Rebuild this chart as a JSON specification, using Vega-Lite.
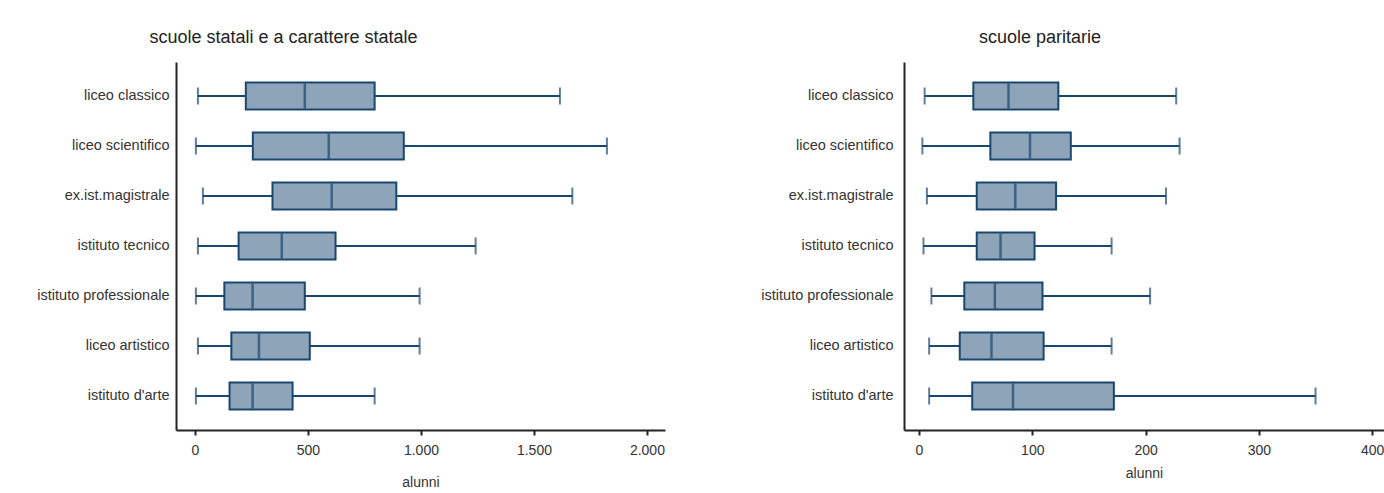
{
  "$schema": "https://vega.github.io/schema/vega-lite/v6.json",
  "padding": {"left": 0, "top": 29, "right": 0, "bottom": 0},
  "background": "white",
  "config": {
    "view": {"stroke": null},
    "font": "Liberation Sans",
    "concat": {"spacing": 89},
    "axis": {"domainColor": "#222222", "domainWidth": 2, "tickColor": "#222222", "tickWidth": 2, "labelColor": "#333333", "titleColor": "#333333", "labelFont": "Liberation Sans", "titleFont": "Liberation Sans", "grid": false},
    "title": {"font": "Liberation Sans", "fontSize": 18, "fontWeight": "normal", "color": "#222222"}
  },
  "datasets": {
    "statali": [
      {"cat": "liceo classico", "lo": 13, "q1": 225, "med": 486, "q3": 795, "hi": 1615},
      {"cat": "liceo scientifico", "lo": 4, "q1": 256, "med": 592, "q3": 924, "hi": 1823},
      {"cat": "ex.ist.magistrale", "lo": 35, "q1": 343, "med": 605, "q3": 891, "hi": 1670},
      {"cat": "istituto tecnico", "lo": 13, "q1": 193, "med": 384, "q3": 622, "hi": 1242},
      {"cat": "istituto professionale", "lo": 4, "q1": 130, "med": 255, "q3": 486, "hi": 994},
      {"cat": "liceo artistico", "lo": 13, "q1": 161, "med": 283, "q3": 508, "hi": 994},
      {"cat": "istituto d'arte", "lo": 4, "q1": 153, "med": 255, "q3": 432, "hi": 795}
    ],
    "paritarie": [
      {"cat": "liceo classico", "lo": 5, "q1": 48, "med": 79, "q3": 123, "hi": 227},
      {"cat": "liceo scientifico", "lo": 3, "q1": 63, "med": 98, "q3": 134, "hi": 230},
      {"cat": "ex.ist.magistrale", "lo": 7, "q1": 51, "med": 85, "q3": 121, "hi": 218},
      {"cat": "istituto tecnico", "lo": 4, "q1": 51, "med": 72, "q3": 102, "hi": 170},
      {"cat": "istituto professionale", "lo": 11, "q1": 40, "med": 67, "q3": 109, "hi": 204},
      {"cat": "liceo artistico", "lo": 9, "q1": 36, "med": 64, "q3": 110, "hi": 170},
      {"cat": "istituto d'arte", "lo": 9, "q1": 47, "med": 83, "q3": 172, "hi": 350}
    ]
  },
  "hconcat": [
    {
      "title": {"text": "scuole statali e a carattere statale", "anchor": "middle", "frame": "group", "dx": -137, "offset": 15},
      "width": 489,
      "height": 368,
      "data": {"name": "statali"},
      "encoding": {
        "y": {"field": "cat", "type": "nominal", "sort": null, "title": null,
          "scale": {"type": "band", "paddingInner": 0, "paddingOuter": 0.18},
          "axis": {"ticks": false, "labelPadding": 7, "labelFontSize": 14.5, "minExtent": 176, "maxExtent": 176, "labelLimit": 300}}
      },
      "layer": [
        {"mark": {"type": "rule", "color": "#1a476f", "strokeWidth": 2},
          "encoding": {"x": {"field": "lo", "type": "quantitative", "title": "alunni",
            "scale": {"domain": [-84, 2080], "nice": false, "zero": false},
            "axis": {"values": [0, 500, 1000, 1500, 2000], "labelExpr": "replace(format(datum.value, ',d'), ',', '.')", "tickSize": 5, "labelPadding": 8, "labelFontSize": 14, "titleFontSize": 14, "titlePadding": 18, "titleFontWeight": "normal"}},
            "x2": {"field": "hi"}}},
        {"mark": {"type": "tick", "color": "#1a476f", "thickness": 2, "size": 17}, "encoding": {"x": {"field": "lo", "type": "quantitative"}}},
        {"mark": {"type": "tick", "color": "#1a476f", "thickness": 2, "size": 17}, "encoding": {"x": {"field": "hi", "type": "quantitative"}}},
        {"mark": {"type": "bar", "fill": "#8ea5b9", "stroke": "#1a476f", "strokeWidth": 2, "size": 27},
          "encoding": {"x": {"field": "q1", "type": "quantitative"}, "x2": {"field": "q3"}}},
        {"mark": {"type": "tick", "color": "#1a476f", "thickness": 2.5, "size": 25}, "encoding": {"x": {"field": "med", "type": "quantitative"}}}
      ]
    },
    {
      "title": {"text": "scuole paritarie", "anchor": "middle", "frame": "group", "dx": -104, "offset": 15},
      "width": 480,
      "height": 368,
      "data": {"name": "paritarie"},
      "encoding": {
        "y": {"field": "cat", "type": "nominal", "sort": null, "title": null,
          "scale": {"type": "band", "paddingInner": 0, "paddingOuter": 0.18},
          "axis": {"ticks": false, "labelPadding": 11, "labelFontSize": 14.5, "minExtent": 150, "maxExtent": 150, "labelLimit": 300}}
      },
      "layer": [
        {"mark": {"type": "rule", "color": "#1a476f", "strokeWidth": 2},
          "encoding": {"x": {"field": "lo", "type": "quantitative", "title": "alunni",
            "scale": {"domain": [-13.2, 410.4], "nice": false, "zero": false},
            "axis": {"values": [0, 100, 200, 300, 400], "tickSize": 5, "labelPadding": 8, "labelFontSize": 14, "titleFontSize": 14, "titlePadding": 9, "titleFontWeight": "normal"}},
            "x2": {"field": "hi"}}},
        {"mark": {"type": "tick", "color": "#1a476f", "thickness": 2, "size": 17}, "encoding": {"x": {"field": "lo", "type": "quantitative"}}},
        {"mark": {"type": "tick", "color": "#1a476f", "thickness": 2, "size": 17}, "encoding": {"x": {"field": "hi", "type": "quantitative"}}},
        {"mark": {"type": "bar", "fill": "#8ea5b9", "stroke": "#1a476f", "strokeWidth": 2, "size": 27},
          "encoding": {"x": {"field": "q1", "type": "quantitative"}, "x2": {"field": "q3"}}},
        {"mark": {"type": "tick", "color": "#1a476f", "thickness": 2.5, "size": 25}, "encoding": {"x": {"field": "med", "type": "quantitative"}}}
      ]
    }
  ]
}
